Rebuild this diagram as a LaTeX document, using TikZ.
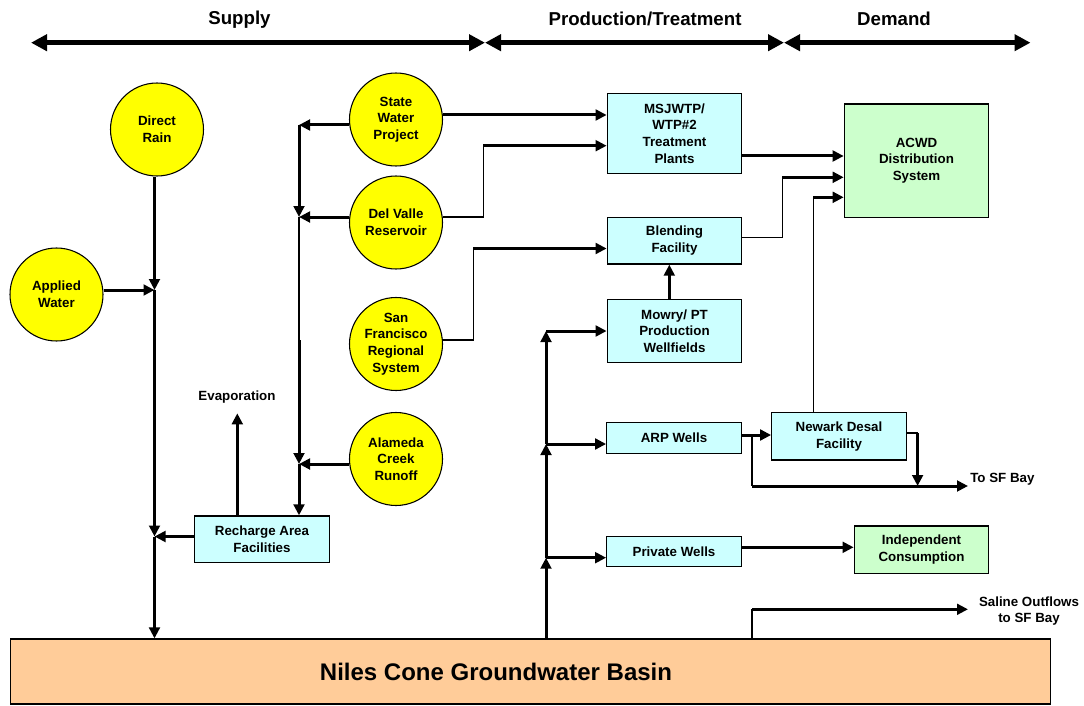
\documentclass[tikz,border=0pt]{standalone}
\usepackage{fontspec}
\setmainfont{Liberation Sans}
\usetikzlibrary{arrows.meta}
\definecolor{cyanbox}{HTML}{CCFFFF}
\definecolor{greenbox}{HTML}{CCFFCC}
\definecolor{orangebox}{HTML}{FFCC99}
\definecolor{yel}{HTML}{FFFF00}
\begin{document}
\begin{tikzpicture}[x=0.75pt,y=-0.75pt,
  txt/.style={font=\bfseries\fontsize{10}{12.5}\selectfont, align=center},
  circ/.style={txt, circle, draw=black, line width=0.8pt, fill=yel, minimum size=69.75pt, inner sep=0pt},
  box/.style={txt, rectangle, draw=black, line width=0.9pt, fill=cyanbox, inner sep=1pt, minimum width=100.9pt},
  gbox/.style={box, fill=greenbox},
  lbl/.style={txt, inner sep=0pt},
  hdr/.style={font=\bfseries\fontsize{14}{16}\selectfont, inner sep=0pt},
  thk/.style={line width=2.25pt},
  thn/.style={line width=0.9pt},
  arr/.style={-{Triangle[length=8.25pt,width=8pt]}},
  harr/.style={line width=4pt, {Triangle[length=12pt,width=12pt]}-{Triangle[length=12pt,width=12pt]}}
]
\useasboundingbox (0,0) rectangle (1084,706);

% headers
\node[hdr] (hsupply) at (239.5,19.3) {Supply};
\node[hdr] (hprod) at (645,19.3) {Production/Treatment};
\node[hdr] (hdem) at (894,19.3) {Demand};
\coordinate (h0) at (31,42.7);
\coordinate (h1) at (485,42.7);
\coordinate (h2) at (784,42.7);
\coordinate (h3) at (1030.5,42.7);
\draw[harr] (h0) -- (h1);
\draw[harr] (h1) -- (h2);
\draw[harr] (h2) -- (h3);

% circles
\node[circ] (rain) at (157,129.5) {Direct\\Rain};
\node[circ] (applied) at (56.5,294.5) {Applied\\Water};
\node[circ] (swp) at (396,119.5) {State\\Water\\Project};
\node[circ] (delvalle) at (396,222.5) {Del Valle\\Reservoir};
\node[circ] (sfr) at (396,344) {San\\Francisco\\Regional\\System};
\node[circ] (alameda) at (396,459) {Alameda\\Creek\\Runoff};

% boxes
\node[box, minimum height=60pt] (msj) at (674.5,133.3) {MSJWTP/\\WTP\#2\\Treatment\\Plants};
\node[box, minimum height=35pt] (blend) at (674.5,240.7) {Blending\\Facility};
\node[box, minimum height=47.5pt] (mowry) at (674.5,331) {Mowry/ PT\\Production\\Wellfields};
\node[box, minimum height=23pt] (arp) at (674,438) {ARP Wells};
\node[box, minimum height=35.5pt] (newark) at (839,436.3) {Newark Desal\\Facility};
\node[box, minimum height=22.5pt] (priv) at (674,551.7) {Private Wells};
\node[gbox, minimum height=35.5pt] (indep) at (921.5,549.7) {Independent\\Consumption};
\node[gbox, minimum width=108.3pt, minimum height=85pt] (acwd) at (916.5,160.7) {ACWD\\Distribution\\System};
\node[box, minimum height=35pt] (recharge) at (262,539.3) {Recharge Area\\Facilities};
\node[draw=black, line width=0.9pt, fill=orangebox, minimum width=780pt, minimum height=48.75pt, inner sep=0pt] (niles) at (530.4,671.5) {};
\node[font=\bfseries\fontsize{18}{20}\selectfont, inner sep=0pt] (nilestext) at (496,672) {Niles Cone Groundwater Basin};

% labels
\node[lbl] (evap) at (237,397) {Evaporation};
\coordinate (evaptip) at (237.3,413.3);
\node[lbl, anchor=west] (tosf) at (970,479) {To SF Bay};
\node[lbl] (saline) at (1029,611) {Saline Outflows\\to SF Bay};

% left column
\coordinate (jA) at (154.5,290);
\coordinate (jR) at (154.5,536.5);
\draw[thk,arr] (rain.south -| jA) -- (jA);
\draw[thk,arr] (applied.east |- jA) -- (jA);
\draw[thk,arr] (jA) -- (jR);
\draw[thk,arr] (recharge.west |- jR) -- (jR);
\draw[thk,arr] (jR) -- (jR |- niles.north);
\draw[thk,arr] (recharge.north -| evaptip) -- (evaptip);

% second column
\coordinate (jS) at (299,125);
\coordinate (jD) at (299,217);
\coordinate (jT) at (299,340);
\coordinate (jAl) at (299,464);
\draw[thk,arr] (swp.west |- jS) -- (jS);
\draw[thk,arr] (jS) -- (jD);
\draw[thk,arr] (delvalle.west |- jD) -- (jD);
\draw[thn] (jD) -- (jT);
\draw[thk,arr] (jT) -- (jAl);
\draw[thk,arr] (alameda.west |- jAl) -- (jAl);
\draw[thk,arr] (jAl) -- (jAl |- recharge.north);

% supplies to treatment
\draw[thk,arr] (swp.east |- 0,115) -- (msj.west |- 0,115);
\coordinate (dvA) at (483.3,217);
\coordinate (dvB) at (483.3,145.7);
\draw[thn] (delvalle.east |- dvA) -- (dvA) -- (dvB);
\draw[thk,arr] (dvB) -- (msj.west |- dvB);
\coordinate (sfA) at (473.3,340);
\coordinate (sfB) at (473.3,248.5);
\draw[thn] (sfr.east |- sfA) -- (sfA) -- (sfB);
\draw[thk,arr] (sfB) -- (blend.west |- sfB);

% to ACWD
\draw[thk,arr] (msj.east |- 0,156) -- (acwd.west |- 0,156);
\coordinate (blA) at (782.3,237.3);
\coordinate (blB) at (782.3,177.3);
\draw[thn] (blend.east |- blA) -- (blA) -- (blB);
\draw[thk,arr] (blB) -- (acwd.west |- blB);
\coordinate (nwA) at (813.3,197.3);
\draw[thn] (newark.north -| nwA) -- (nwA);
\draw[thk,arr] (nwA) -- (acwd.west |- nwA);
\draw[thk,arr] (mowry.north -| 669.3,0) -- (blend.south -| 669.3,0);

% wells trunk
\coordinate (t1) at (546,557.7);
\coordinate (t2) at (546,444);
\coordinate (t3) at (546,331);
\draw[thk,arr] (niles.north -| t1) -- (t1);
\draw[thk,arr] (t1) -- (t2);
\draw[thk,arr] (t2) -- (t3);
\draw[thk,arr] (t3) -- (mowry.west |- t3);
\draw[thk,arr] (t2) -- (arp.west |- t2);
\draw[thk,arr] (t1) -- (priv.west |- t1);

\draw[thk,arr] (priv.east |- 0,547.3) -- (indep.west |- 0,547.3);
\draw[thk,arr] (arp.east |- 0,435) -- (newark.west |- 0,435);

% to SF Bay
\coordinate (brA) at (752,435);
\coordinate (brB) at (752,486);
\coordinate (sfTip) at (968,486);
\draw[thn] (brA) -- (brB);
\draw[thk,arr] (brB) -- (sfTip);
\coordinate (nrA) at (917.6,433);
\coordinate (nrB) at (917.6,486);
\draw[thn] (newark.east |- nrA) -- (nrA);
\draw[thk,arr] (nrA) -- (nrB);

% saline outflows
\coordinate (saA) at (752,609.3);
\coordinate (saTip) at (968,609.3);
\draw[thn] (niles.north -| saA) -- (saA);
\draw[thk,arr] (saA) -- (saTip);
\end{tikzpicture}
\end{document}
